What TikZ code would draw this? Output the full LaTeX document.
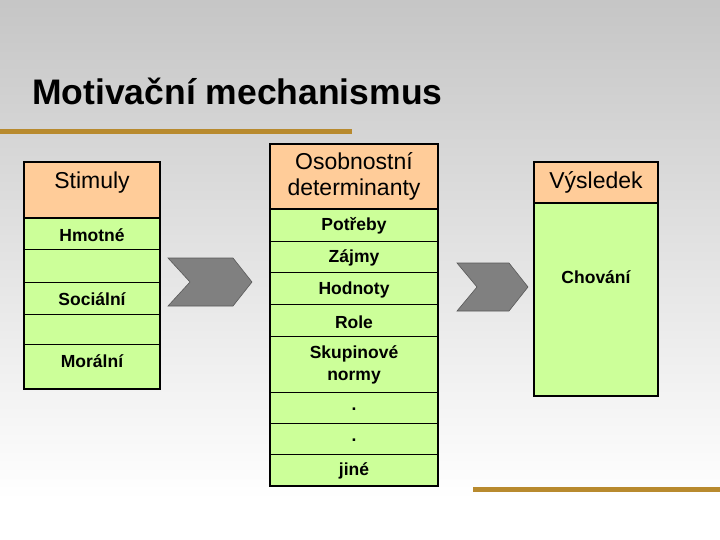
\documentclass[tikz,border=0pt]{standalone}
\usepackage{fontspec}
\setmainfont{Liberation Sans}
\begin{document}
\begin{tikzpicture}[x=1pt,y=-1pt,
  hdr/.style={draw,line width=1.2pt,fill=hdrc},
  row/.style={draw,line width=0.8pt,fill=grn},
  lbl/.style={font=\fontsize{17.5}{22}\selectfont\bfseries,align=center},
  hlbl/.style={font=\fontsize{23}{26}\selectfont,align=center},
  chev/.style={fill=gray,draw=gray!70!black,line width=0.6pt}]
\definecolor{hdrc}{HTML}{FFCC99}
\definecolor{grn}{HTML}{CCFF99}
\definecolor{barc}{HTML}{B88A2E}
\useasboundingbox (0,0) rectangle (720,540);
\shade[top color=gray!45,bottom color=white] (0,0) rectangle (720,500);
\fill[white] (0,500) rectangle (720,540);
\node[anchor=base west,font=\fontsize{35.5}{38}\selectfont\bfseries,inner sep=0pt] (title) at (32,105) {Motivační mechanismus};
\fill[barc] (0,129) rectangle (352,134);
\fill[barc] (473,487) rectangle (720,492);
% Stimuly column
\draw[hdr] (24,162) rectangle (160,218);
\node[hlbl] (s0) at (92,183) {Stimuly};
\draw[row] (24,218) rectangle (160,249); \node[lbl] (s1) at (92,235) {Hmotné};
\draw[row] (24,249) rectangle (160,282); \node (s2) at (92,266) {};
\draw[row] (24,282) rectangle (160,314); \node[lbl] (s3) at (92,299) {Sociální};
\draw[row] (24,314) rectangle (160,344); \node (s4) at (92,329) {};
\draw[row] (24,344) rectangle (160,389); \node[lbl] (s5) at (92,361) {Morální};
\draw[line width=1.2pt] (24,162) rectangle (160,389);
% middle column
\draw[hdr] (270,144) rectangle (438,209);
\node[hlbl] (m0) at (354,176) {Osobnostní\\determinanty};
\draw[row] (270,209) rectangle (438,241); \node[lbl] (m1) at (354,226) {Potřeby};
\draw[row] (270,241) rectangle (438,272); \node[lbl] (m2) at (354,258) {Zájmy};
\draw[row] (270,272) rectangle (438,304); \node[lbl] (m3) at (354,290) {Hodnoty};
\draw[row] (270,304) rectangle (438,336); \node[lbl] (m4) at (354,322) {Role};
\draw[row] (270,336) rectangle (438,392); \node[lbl] (m5) at (354,365) {Skupinové\\normy};
\draw[row] (270,392) rectangle (438,423); \node[lbl] (m6) at (354,409) {.};
\draw[row] (270,423) rectangle (438,454); \node[lbl] (m7) at (354,440) {.};
\draw[row] (270,454) rectangle (438,486); \node[lbl] (m8) at (354,471) {jiné};
\draw[line width=1.2pt] (270,144) rectangle (438,486);
% right column
\draw[hdr] (534,162) rectangle (658,203);
\node[hlbl] (r0) at (596,182) {Výsledek};
\draw[row] (534,203) rectangle (658,396);
\node[lbl] (r1) at (596,277) {Chování};
\draw[line width=1.2pt] (534,162) rectangle (658,396);
% chevrons
\draw[chev] (168,258) -- (233,258) -- (252,282) -- (233,306) -- (168,306) -- (190,282) -- cycle;
\draw[chev] (457,263) -- (509,263) -- (528,287) -- (509,311) -- (457,311) -- (477,287) -- cycle;
\end{tikzpicture}
\end{document}
